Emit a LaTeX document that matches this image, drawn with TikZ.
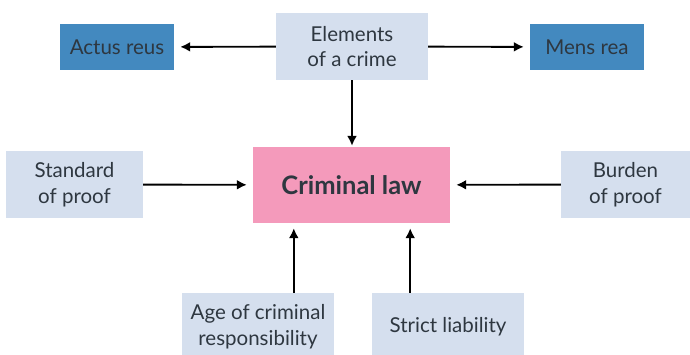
\documentclass[tikz,border=0pt]{standalone}
\usepackage{fontspec}
\setmainfont{Lato}
\usetikzlibrary{arrows.meta, shapes}

\definecolor{paleblue}{HTML}{D5DFEE}
\definecolor{midblue}{HTML}{4389BF}
\definecolor{lawpink}{HTML}{F49ABB}
\definecolor{inktext}{HTML}{2E3740}

\begin{document}
\begin{tikzpicture}[x=1pt, y=-1pt, >={Latex[length=10pt, width=10pt]}]
    \tikzstyle{every node} = [shape=rectangle, inner sep=0pt, align=center, text=inktext,
        font=\fontsize{20.5}{25.5}\selectfont]
    \tikzstyle{topic} = [fill=paleblue, minimum height=67pt]
    \tikzstyle{part} = [fill=midblue, minimum width=114pt, minimum height=46pt]
    \tikzstyle{link} = [line width=1.9pt, ->, shorten >=6pt]
    \useasboundingbox (0, 0) rectangle (690, 354);
    \node (elem) [topic, minimum width=152pt] at (352, 46.5) {Elements\\of a crime};
    \node (actus) [part] at (117, 47) {Actus reus};
    \node (mens) [part] at (587, 47) {Mens rea};
    \node (crim) [fill=lawpink, minimum width=197pt, minimum height=76pt,
        font=\fontsize{25.5}{30}\selectfont\bfseries] at (351.5, 185) {Criminal law};
    \node (std) [topic, minimum width=137pt] at (74.5, 184.5) {Standard\\of proof};
    \node (bur) [topic, minimum width=129pt] at (625.5, 184.5) {Burden\\of proof};
    \node (age) [topic, minimum width=152pt] at (258, 326.5) {Age of criminal\\responsibility};
    \node (strict) [topic, minimum width=152pt] at (448, 326.5) {Strict liability};
    \coordinate (agein) at ([xshift=41pt]crim.south west);
    \coordinate (strictin) at ([xshift=-40pt]crim.south east);
      \draw [link] (elem) -- (actus);
      \draw [link] (elem) -- (mens);
      \draw [link, shorten >=1pt] (elem) -- (elem |- crim.north);
      \draw [link] (std) -- (crim);
      \draw [link] (bur) -- (crim);
      \draw [link, shorten >=5pt] (age.north -| agein) -- (agein);
      \draw [link, shorten >=5pt] (strict.north -| strictin) -- (strictin);
\end{tikzpicture}
\end{document}
